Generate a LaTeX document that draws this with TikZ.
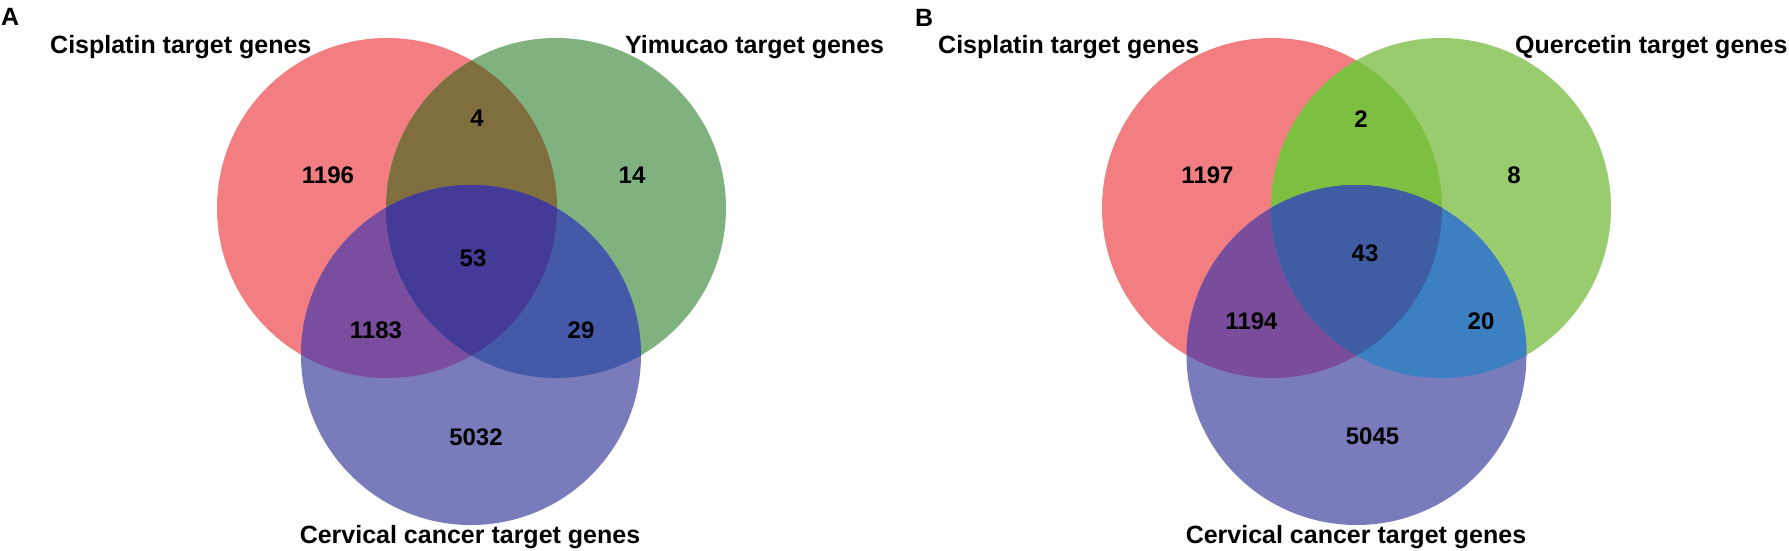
\documentclass[tikz,border=0pt]{standalone}
\usepackage{fontspec}
\setmainfont{Liberation Sans}
\definecolor{cRed}{HTML}{F37E82}
\definecolor{cBlue}{HTML}{7A7BBB}
\definecolor{cGreenA}{HTML}{7FB27F}
\definecolor{cRGA}{HTML}{7F6F3F}
\definecolor{cRBA}{HTML}{7B4D9E}
\definecolor{cGBA}{HTML}{4459A8}
\definecolor{cTriA}{HTML}{443A98}
\definecolor{cGreenB}{HTML}{98CC6E}
\definecolor{cRGB}{HTML}{7DBF40}
\definecolor{cRBB}{HTML}{7A4C9C}
\definecolor{cGBB}{HTML}{3C80C1}
\definecolor{cTriB}{HTML}{3E5DA2}
\tikzset{
  lbl/.style={font=\fontsize{25}{30}\selectfont\bfseries, inner sep=0pt},
  num/.style={font=\fontsize{24}{28}\selectfont\bfseries, inner sep=0pt},
  panel/.style={font=\fontsize{25}{30}\selectfont\bfseries, inner sep=0pt, anchor=base west},
}
\begin{document}
\begin{tikzpicture}[x=1pt,y=-1pt]
\useasboundingbox (0,0) rectangle (1789,550);
\fill[white] (0,0) rectangle (1789,550);
% ---------- Panel A ----------
\coordinate (RA) at (387,208);
\coordinate (GA) at (556,208);
\coordinate (BA) at (471,355);
\fill[cRed] (RA) circle[radius=170pt];
\fill[cGreenA] (GA) circle[radius=170pt];
\fill[cBlue] (BA) circle[radius=170pt];
\begin{scope}\clip (RA) circle[radius=170pt]; \fill[cRGA] (GA) circle[radius=170pt];\end{scope}
\begin{scope}\clip (RA) circle[radius=170pt]; \fill[cRBA] (BA) circle[radius=170pt];\end{scope}
\begin{scope}\clip (GA) circle[radius=170pt]; \fill[cGBA] (BA) circle[radius=170pt];\end{scope}
\begin{scope}\clip (RA) circle[radius=170pt]; \clip (GA) circle[radius=170pt]; \fill[cTriA] (BA) circle[radius=170pt];\end{scope}
\node[panel] (pA) at (1,25) {A};
\node[lbl, anchor=base west] (lCisA) at (50,53) {Cisplatin target genes};
\node[lbl, anchor=base west] (lYim) at (625,53) {Yimucao target genes};
\node[lbl, anchor=base] (lCerA) at (470,543) {Cervical cancer target genes};
\node[num] (nA1) at (328,175.5) {1196};
\node[num] (nA2) at (477,118) {4};
\node[num] (nA3) at (632,175.5) {14};
\node[num] (nA4) at (473,258) {53};
\node[num] (nA5) at (376,330) {1183};
\node[num] (nA6) at (581,330) {29};
\node[num] (nA7) at (476,437) {5032};
% ---------- Panel B ----------
\coordinate (RB) at (1272,208);
\coordinate (GB) at (1441,208);
\coordinate (BB) at (1356.5,355);
\fill[cRed] (RB) circle[radius=170pt];
\fill[cGreenB] (GB) circle[radius=170pt];
\fill[cBlue] (BB) circle[radius=170pt];
\begin{scope}\clip (RB) circle[radius=170pt]; \fill[cRGB] (GB) circle[radius=170pt];\end{scope}
\begin{scope}\clip (RB) circle[radius=170pt]; \fill[cRBB] (BB) circle[radius=170pt];\end{scope}
\begin{scope}\clip (GB) circle[radius=170pt]; \fill[cGBB] (BB) circle[radius=170pt];\end{scope}
\begin{scope}\clip (RB) circle[radius=170pt]; \clip (GB) circle[radius=170pt]; \fill[cTriB] (BB) circle[radius=170pt];\end{scope}
\node[panel] (pB) at (915,26) {B};
\node[lbl, anchor=base west] (lCisB) at (938,53) {Cisplatin target genes};
\node[lbl, anchor=base west] (lQue) at (1515,53) {Quercetin target genes};
\node[lbl, anchor=base] (lCerB) at (1356,543) {Cervical cancer target genes};
\node[num] (nB1) at (1207.5,175) {1197};
\node[num] (nB2) at (1361,119) {2};
\node[num] (nB3) at (1514,175) {8};
\node[num] (nB4) at (1365,253.5) {43};
\node[num] (nB5) at (1251.5,321) {1194};
\node[num] (nB6) at (1481,321) {20};
\node[num] (nB7) at (1372.5,436) {5045};
\end{tikzpicture}
\end{document}
